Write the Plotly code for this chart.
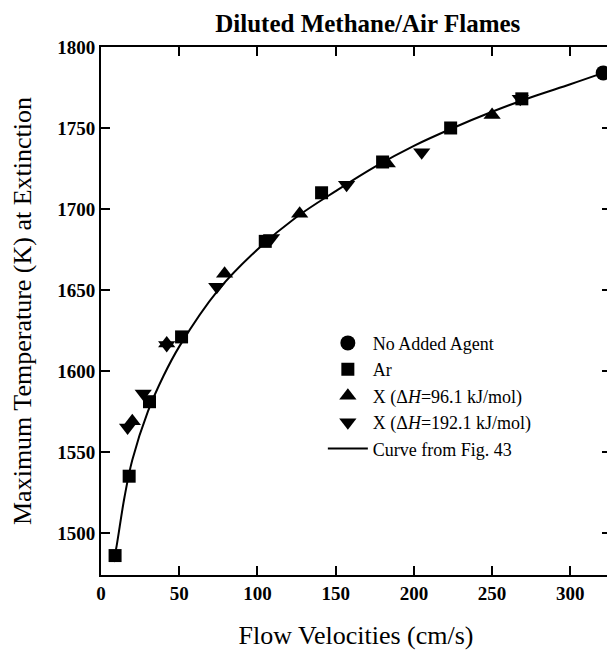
import plotly.graph_objects as go

# data
noagent_x = [321]
noagent_y = [1784]

ar_x = [9, 18, 31, 51.5, 105, 141, 180, 223.5, 269]
ar_y = [1486, 1535, 1581, 1621, 1680, 1710, 1729, 1750, 1768]

x96_x = [20, 42, 79, 127, 183, 250]
x96_y = [1569, 1617, 1660, 1697, 1728, 1758]

x192_x = [17, 27, 42, 74, 109, 157, 205, 268]
x192_y = [1565, 1586, 1616, 1652, 1682, 1715, 1735, 1768]

curve_x = [8, 10, 15, 20, 30, 40, 50, 75, 100, 125, 150, 175, 200, 225, 250, 275, 300, 321]
curve_y = [1482, 1492, 1522, 1545, 1575, 1597, 1615, 1650, 1675, 1695, 1711, 1726, 1739, 1750, 1760, 1769, 1777, 1784]

serif = "Liberation Serif"

fig = go.Figure()
fig.add_trace(go.Scatter(x=noagent_x, y=noagent_y, mode="markers", name="No Added Agent",
                         marker=dict(symbol="circle", size=15, color="black")))
fig.add_trace(go.Scatter(x=ar_x, y=ar_y, mode="markers", name="Ar",
                         marker=dict(symbol="square", size=13, color="black")))
fig.add_trace(go.Scatter(x=x96_x, y=x96_y, mode="markers", name="X (Δ<i>H</i>=96.1 kJ/mol)",
                         marker=dict(symbol="triangle-up", size=15, color="black")))
fig.add_trace(go.Scatter(x=x192_x, y=x192_y, mode="markers", name="X (Δ<i>H</i>=192.1 kJ/mol)",
                         marker=dict(symbol="triangle-down", size=15, color="black")))
fig.add_trace(go.Scatter(x=curve_x, y=curve_y, mode="lines", name="Curve from Fig. 43",
                         line=dict(color="black", width=2, shape="spline")))

axis_common = dict(showgrid=False, zeroline=False, showline=True, linecolor="black", linewidth=2,
                   mirror="ticks", ticks="inside", ticklen=9, tickwidth=2, tickcolor="black",
                   tickfont=dict(family=serif, size=19, color="black", weight="bold"))

fig.update_xaxes(range=[0, 326], tickvals=[0, 50, 100, 150, 200, 250, 300],
                 title=dict(text="Flow Velocities (cm/s)", font=dict(family=serif, size=26, color="black"),
                            standoff=23),
                 **axis_common)
fig.update_yaxes(range=[1474, 1800], tickvals=[1500, 1550, 1600, 1650, 1700, 1750, 1800],
                 title=dict(text="Maximum Temperature (K) at Extinction",
                            font=dict(family=serif, size=26, color="black"), standoff=18),
                 **axis_common)

fig.update_layout(
    width=615, height=651,
    margin=dict(l=93, r=10, t=39, b=84),
    paper_bgcolor="white", plot_bgcolor="white",
    title=dict(text="<b>Diluted Methane/Air Flames</b>", x=0.585, xanchor="center",
               y=0.977, yanchor="middle",
               font=dict(family=serif, size=25, color="black")),
    legend=dict(x=0.435, y=0.474, xanchor="left", yanchor="top", bgcolor="rgba(0,0,0,0)",
                font=dict(family=serif, size=18, color="black"), tracegroupgap=0,
                itemwidth=40),
    showlegend=True,
)

fig.write_html("out.html")
